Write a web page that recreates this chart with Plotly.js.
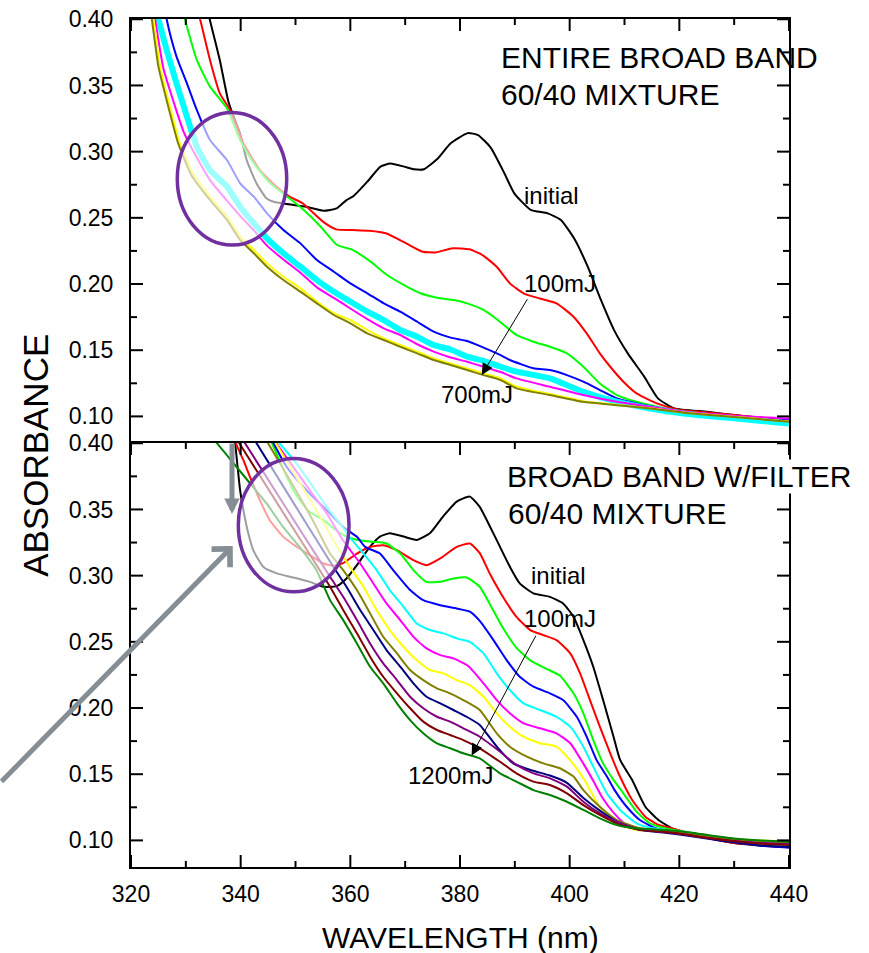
<!DOCTYPE html>
<html><head><meta charset="utf-8">
<script src="https://cdn.plot.ly/plotly-3.0.1.min.js"></script>
<style>html,body{margin:0;padding:0;background:#fff}#chart{width:869px;height:953px}</style>
</head><body><div id="chart"></div>
<script>
// ---------- TOP PANEL: ENTIRE BROAD BAND ----------
const topInitialX = [332.5,334.4,336.2,337.7,338.4,339.9,341.1,342.9,344.7,346.0,348.4,352.0,355.1,357.5,359.3,360.6,363.1,365.5,367.3,369.8,371.6,373.4,375.8,378.3,381.4,383.3,385.6,388.1,389.9,392.9,396.0,398.4,400.8,403.3,405.7,408.1,410.6,413.6,416.1,419.1,425,430,435,440];
const topInitialY = [0.433,0.3992,0.369,0.3389,0.33,0.3137,0.2936,0.276,0.2647,0.2621,0.2604,0.2583,0.2553,0.2571,0.2634,0.2665,0.2773,0.2887,0.291,0.2887,0.2867,0.2867,0.2942,0.3063,0.314,0.3125,0.303,0.2836,0.2685,0.256,0.2534,0.2484,0.2345,0.2131,0.188,0.1652,0.1476,0.13,0.1136,0.106,0.1035,0.101,0.099,0.0967];
const top100X = [330.5,332.6,334.4,336.2,338.05,340.5,343.5,346.5,348.9,351.3,355.0,357.4,360.4,363.5,366.5,370.2,373.2,375.6,378.7,381.7,384.1,386.7,389.1,391.6,394.6,397.6,400.7,403.1,405.5,407.4,409.8,412.2,415.9,419.6,425,430,435,440];
const top100Y = [0.43,0.40,0.3693,0.344,0.3315,0.3063,0.2861,0.2736,0.266,0.261,0.2471,0.2413,0.2408,0.2403,0.2383,0.2307,0.2244,0.2239,0.227,0.2262,0.2219,0.213,0.2005,0.193,0.189,0.1854,0.1753,0.1627,0.1476,0.1375,0.1262,0.1174,0.1098,0.1053,0.103,0.101,0.099,0.097];
const topGreenX = [328,329.85,332.0,334.4,337.5,339.9,342.4,345.4,348.5,351.5,354.6,357.6,360.3,363.7,366.7,369.8,372.8,375.8,378.9,381.3,384.3,387.3,390.3,393.4,396.4,399.5,402.5,405.5,408.6,412.2,415.9,420.8,430,440];
const topGreenY = [0.44,0.40,0.3693,0.3491,0.3327,0.3088,0.2912,0.2761,0.266,0.2559,0.2433,0.2295,0.226,0.2169,0.2068,0.1992,0.193,0.1897,0.1879,0.1854,0.1804,0.1715,0.1615,0.1564,0.1526,0.1476,0.1375,0.1249,0.1161,0.111,0.1073,0.1035,0.1,0.0965];
const topBlueX = [324.5,326.5,328.3,330.2,332.0,334.4,337.5,339.9,342.4,344.8,347.8,350.9,353.9,357.0,360.0,363.1,366.1,369.1,372.2,375.2,378.3,381.3,384.3,387.4,389.1,393.4,396.4,399.5,402.5,405.5,408.6,412.2,415.9,420.8,430,440];
const topBlueY = [0.45,0.40,0.3718,0.3516,0.3315,0.3088,0.2937,0.2761,0.266,0.2534,0.2408,0.2307,0.2181,0.2093,0.2005,0.193,0.1854,0.1791,0.1715,0.164,0.1595,0.157,0.152,0.1463,0.1426,0.1363,0.135,0.1312,0.1262,0.1199,0.1136,0.1098,0.1068,0.1035,0.1,0.097];
const topCyanX = [323.2,325.0,326.5,328.3,330.2,332.0,334.4,337.5,339.9,342.4,344.8,347.8,350.9,353.9,357.0,360.0,363.1,366.1,369.1,372.2,375.2,378.3,381.3,384.3,387.4,390.3,396.4,402.5,408.6,414.7,420.8,430,440];
const topCyanY = [0.428,0.40,0.3768,0.3516,0.3264,0.3038,0.2861,0.2736,0.2584,0.2458,0.2345,0.2232,0.2131,0.203,0.1942,0.1867,0.1791,0.1728,0.1653,0.1602,0.1539,0.1505,0.1451,0.142,0.1375,0.1338,0.1287,0.1186,0.1111,0.106,0.1022,0.0985,0.0947];
const topMagentaX = [322.5,324.4,325.9,327.7,329.6,332.0,334.4,337.5,339.9,342.4,344.8,347.8,350.9,353.9,357.0,360.0,363.1,366.1,369.1,372.2,375.2,378.3,381.3,384.3,387.4,390.3,396.4,402.5,408.6,414.7,420.8,430,440];
const topMagentaY = [0.45,0.40,0.363,0.3385,0.315,0.2955,0.2785,0.263,0.2515,0.2405,0.229,0.2185,0.2085,0.1975,0.1895,0.1815,0.1735,0.1665,0.1615,0.1545,0.1489,0.1445,0.1413,0.1375,0.1335,0.1287,0.1224,0.1161,0.111,0.1073,0.1035,0.1005,0.0985];
const topYellowX = [322.3,324.1,325.3,327.1,328.9,331.3,334.4,337.5,339.9,342.4,344.8,347.8,350.9,353.9,357.0,360.0,363.1,366.1,369.1,372.2,375.2,378.3,381.3,384.3,387.4,390.3,396.4,402.5,408.6,414.7,420.8,430,440];
const topYellowY = [0.45,0.40,0.3642,0.334,0.3063,0.2836,0.266,0.2509,0.2358,0.2257,0.2156,0.2055,0.1967,0.1867,0.1778,0.1728,0.1653,0.1589,0.1539,0.1489,0.1438,0.14,0.1363,0.1325,0.1287,0.1225,0.117,0.1115,0.1088,0.1062,0.103,0.0997,0.0962];
const topOliveX = [322,323.8,325.0,326.8,328.6,331.0,334.4,337.5,339.9,342.4,344.8,347.8,350.9,353.9,357.0,360.0,363.1,366.1,369.1,372.2,375.2,378.3,381.3,384.3,387.4,390.3,396.4,402.5,408.6,414.7,420.8,430,440];
const topOliveY = [0.45,0.40,0.3642,0.334,0.3063,0.2824,0.2635,0.2484,0.2333,0.2232,0.2131,0.203,0.1942,0.1854,0.1766,0.1703,0.1627,0.1577,0.1526,0.1476,0.1426,0.1388,0.135,0.1312,0.1275,0.1212,0.1161,0.111,0.1085,0.106,0.1028,0.0995,0.096];

// ---------- BOTTOM PANEL: BROAD BAND W/FILTER ----------
const botInitialX = [337.5,339.0,339.9,340.5,341.4,342.3,344.1,346.6,349.6,352.6,355.1,357.5,359.3,361.2,363.6,365.4,367.2,369.7,372.1,374.5,376.9,379.4,381.8,383.6,385.5,387.3,389.1,390.9,393.4,396.4,398.8,400.7,402.5,404.3,406.1,408.0,409.2,411.4,413.8,416.2,418.7,422,426,430,435,440];
const botInitialY = [0.46,0.40,0.3645,0.3494,0.3318,0.3192,0.3067,0.3017,0.2986,0.2953,0.2916,0.2921,0.2979,0.3079,0.3219,0.3295,0.332,0.3295,0.327,0.332,0.3446,0.3559,0.3597,0.3519,0.3368,0.3217,0.3067,0.2941,0.2866,0.284,0.279,0.2689,0.2513,0.2312,0.206,0.1783,0.1608,0.1456,0.1254,0.1154,0.109,0.105,0.101,0.098,0.096,0.095];
const bot100X = [338,339.15,340.5,341.7,343.5,345.3,347.8,350.2,352.6,355.1,356.9,358.7,361.2,363.6,366.0,368.5,371.5,373.9,376.4,379.4,381.8,383.6,385.5,387.9,390.3,392.8,395.2,397.6,400.1,401.9,403.7,405.5,407.4,408.9,411.4,413.8,416.2,418.7,422,426,430,435,440];
const bot100Y = [0.43,0.40,0.3872,0.3746,0.357,0.3419,0.3293,0.3218,0.3155,0.3092,0.3075,0.3095,0.3167,0.3217,0.323,0.3192,0.3117,0.3079,0.313,0.3217,0.3243,0.317,0.301,0.2835,0.2689,0.2589,0.2551,0.2513,0.2413,0.2262,0.206,0.1859,0.1658,0.1507,0.1305,0.1179,0.1116,0.1091,0.105,0.101,0.098,0.0965,0.0955];
const botGreenX = [344.3,345.7,347.5,349.6,352.3,355.1,357.5,359.5,362.0,364.2,366.6,369.1,371.5,373.9,376.4,378.8,381.2,383.6,385.5,387.9,390.3,392.8,395.8,398.2,400.7,402.5,404.3,406.1,408.0,409.8,412.2,414.6,417.6,422,426,430,435,440];
const botGreenY = [0.41,0.40,0.383,0.3645,0.349,0.3419,0.334,0.329,0.3265,0.3255,0.3243,0.3167,0.3042,0.2953,0.2953,0.2979,0.2986,0.2916,0.278,0.26,0.2455,0.236,0.2295,0.2245,0.2111,0.196,0.1758,0.1582,0.1457,0.1355,0.1217,0.1129,0.1091,0.106,0.103,0.101,0.0995,0.098];
const botBlueX = [344.8,346.0,348.4,352.0,355.7,358.7,361.2,362.7,365.4,367.8,370.9,373.3,376.4,379.4,381.8,383.6,386.1,388.5,390.9,393.4,396.4,398.8,401.3,403.1,404.9,406.8,408.2,410.4,412.8,415.8,420,425,430,435,440];
const botBlueY = [0.41,0.40,0.3821,0.3645,0.3494,0.3368,0.3293,0.3217,0.3167,0.3042,0.2891,0.2815,0.2777,0.2752,0.2728,0.2658,0.2513,0.2362,0.2236,0.2161,0.2111,0.206,0.1934,0.1783,0.1608,0.1482,0.138,0.1254,0.1154,0.109,0.106,0.102,0.0985,0.096,0.0945];
const botCyanX = [346,347.1,350.2,353.2,355.7,358.1,359.9,362.4,364.8,367.2,369.7,372.1,374.5,377.0,379.4,381.8,384.3,386.7,389.1,391.6,394.6,397.6,400.1,402.5,404.3,406.8,409.2,412.2,415.2,420,425,430,435,440];
const botCyanY = [0.406,0.40,0.3847,0.367,0.3519,0.3394,0.329,0.3167,0.3042,0.2891,0.2765,0.2639,0.2589,0.2564,0.2526,0.25,0.2413,0.2262,0.2136,0.2035,0.1985,0.1934,0.1859,0.1708,0.1557,0.1355,0.123,0.1129,0.1091,0.1065,0.1025,0.099,0.097,0.0955];
const botMagentaX = [345.5,346.5,349.6,352.6,355.7,358.7,361.8,364.2,366.6,369.1,371.5,373.9,376.4,378.8,381.5,384.3,386.7,389.1,391.6,394.6,397.6,400.1,402.5,404.3,406,408,410.4,414.0,418,422,426,430,435,440];
const botMagentaY = [0.406,0.40,0.3821,0.3645,0.3469,0.3265,0.3092,0.2941,0.279,0.2664,0.2538,0.245,0.24,0.2375,0.2318,0.2186,0.206,0.196,0.1884,0.1847,0.1809,0.1734,0.158,0.145,0.132,0.121,0.1116,0.1078,0.107,0.105,0.102,0.0995,0.098,0.097];
const botYellowX = [345.5,346.4,350,354,357.5,359.9,362.4,364.8,367.2,369.7,372.1,374.5,377.0,379.4,381.8,384.3,386.7,389.1,391.6,394.6,397.6,400.4,402.8,405.5,408.6,412.2,416,420,425,430,435,440];
const botYellowY = [0.406,0.40,0.3755,0.348,0.3225,0.3067,0.2916,0.274,0.2589,0.2463,0.2362,0.2287,0.2262,0.2211,0.2173,0.2085,0.196,0.1859,0.1783,0.1734,0.1708,0.159,0.145,0.125,0.1129,0.1078,0.1072,0.1065,0.1035,0.101,0.1,0.099];
const botOliveX = [344,345.0,349,353,356.3,358.7,361.2,363.6,366.0,368.5,370.9,373.3,375.8,378.2,380.6,383.6,386.7,389.1,392.2,395.2,398.2,400.7,402.5,405.5,408.6,412.8,417,420,425,430,435,440];
const botOliveY = [0.407,0.40,0.372,0.343,0.3167,0.3042,0.2891,0.2715,0.2538,0.2413,0.2287,0.2211,0.2149,0.2111,0.206,0.1985,0.1809,0.1708,0.1633,0.1582,0.1545,0.1482,0.138,0.1254,0.1154,0.1091,0.1075,0.1065,0.1035,0.101,0.0995,0.0985];
const botNavyX = [341.5,342.9,350,356.9,359.3,361.8,364.2,366.6,369.1,371.5,373.9,376.4,378.8,381.2,383.6,386.7,389.7,393.0,396.4,399.5,402.5,405.5,408.6,412.8,417,420,425,430,435,440];
const botNavyY = [0.409,0.40,0.3525,0.3067,0.2916,0.274,0.2589,0.2438,0.2312,0.2186,0.2085,0.2035,0.1985,0.1934,0.1872,0.1708,0.1582,0.153,0.149,0.1435,0.132,0.1225,0.1142,0.1078,0.106,0.1045,0.1015,0.0985,0.0962,0.095];
const botPurpleX = [339.5,340.8,348,356.3,358.7,361.2,363.6,366.0,368.5,370.9,373.3,375.8,378.2,380.6,383.6,387.3,390.3,393.4,396.4,399.5,402.5,405.5,409.2,413,417,420,425,430,435,440];
const botPurpleY = [0.408,0.40,0.353,0.2991,0.284,0.2664,0.2488,0.2337,0.2211,0.2085,0.1998,0.1934,0.1897,0.1847,0.1783,0.167,0.157,0.1506,0.1469,0.1406,0.1292,0.1204,0.1129,0.108,0.1065,0.105,0.102,0.0995,0.098,0.097];
const botMaroonX = [338.5,339.75,347,356.3,358.7,361.2,363.6,366.0,368.5,370.9,373.3,375.8,378.2,380.6,383.6,387.3,390.3,393.4,396.4,399.5,402.5,405.5,409.2,413,417,420,425,430,435,440];
const botMaroonY = [0.408,0.40,0.3525,0.2916,0.274,0.2564,0.2388,0.2236,0.2111,0.1998,0.1897,0.1834,0.1796,0.1758,0.1696,0.1594,0.1506,0.1444,0.1418,0.1355,0.1267,0.1192,0.1116,0.108,0.1065,0.1052,0.102,0.0995,0.0975,0.0965];
const botDarkGreenX = [334.5,335.7,338.7,341.7,344.7,347.7,350.7,353.8,356.3,358.7,361.2,363.6,366.0,368.5,370.9,373.3,375.8,378.2,380.6,383.6,387.3,390.3,393.4,396.4,399.5,402.5,405.5,408.6,412.2,417.6,422,426,430,435,440];
const botDarkGreenY = [0.407,0.40,0.3849,0.3698,0.3547,0.337,0.3219,0.3043,0.2815,0.2664,0.2488,0.2312,0.2186,0.2035,0.1909,0.1809,0.1733,0.1696,0.1658,0.1619,0.1506,0.1444,0.138,0.1343,0.1292,0.123,0.1166,0.1116,0.1091,0.1078,0.106,0.1035,0.1015,0.1,0.099];

// tick positions
const xMajorTicks = [320,340,360,380,400,420,440];
const xMinorTicks = [330,350,370,390,410,430];
const yMajorTicks = [0.10,0.15,0.20,0.25,0.30,0.35,0.40];
const yMinorTicks = [0.125,0.175,0.225,0.275,0.325,0.375];
const xTitle = 'WAVELENGTH (nm)';
const yTitle = 'ABSORBANCE';

// ---------- build ----------
const FONT = 'Liberation Sans, Arial, sans-serif';
function line(x, y, color, width, xa, ya) {
  return {x: x, y: y, type: 'scatter', mode: 'lines', xaxis: xa, yaxis: ya,
    line: {color: color, width: width, shape: 'spline', smoothing: 0.5},
    hoverinfo: 'skip', showlegend: false};
}
const traces = [
  line(topInitialX, topInitialY, '#000000', 2, 'x2', 'y2'),
  line(top100X, top100Y, '#FF0000', 2, 'x2', 'y2'),
  line(topGreenX, topGreenY, '#00FF00', 2, 'x2', 'y2'),
  line(topBlueX, topBlueY, '#0000FF', 2, 'x2', 'y2'),
  line(topCyanX, topCyanY, '#00FFFF', 6, 'x2', 'y2'),
  line(topMagentaX, topMagentaY, '#FF00FF', 2, 'x2', 'y2'),
  line(topYellowX, topYellowY, '#FFFF00', 2, 'x2', 'y2'),
  line(topOliveX, topOliveY, '#808000', 2, 'x2', 'y2'),
  line(botInitialX, botInitialY, '#000000', 2, 'x', 'y'),
  line(bot100X, bot100Y, '#FF0000', 2, 'x', 'y'),
  line(botGreenX, botGreenY, '#00FF00', 2, 'x', 'y'),
  line(botBlueX, botBlueY, '#0000FF', 2, 'x', 'y'),
  line(botCyanX, botCyanY, '#00FFFF', 2, 'x', 'y'),
  line(botMagentaX, botMagentaY, '#FF00FF', 2, 'x', 'y'),
  line(botYellowX, botYellowY, '#FFFF00', 2, 'x', 'y'),
  line(botOliveX, botOliveY, '#808000', 2, 'x', 'y'),
  line(botNavyX, botNavyY, '#000080', 2, 'x', 'y'),
  line(botPurpleX, botPurpleY, '#800080', 2, 'x', 'y'),
  line(botMaroonX, botMaroonY, '#800000', 2, 'x', 'y'),
  line(botDarkGreenX, botDarkGreenY, '#008000', 2, 'x', 'y')
];

const tickFont = {family: FONT, size: 23, color: '#000'};
const XR = [320, 440], YR = [0.0799, 0.4002];
// axes carry the labels (transparent outside ticks act as label spacers); inward tick marks are shapes
function ax(extra) {
  return Object.assign({showline: true, linewidth: 2, linecolor: '#000', showgrid: false, zeroline: false,
    ticks: 'outside', tickcolor: 'rgba(0,0,0,0)', tickfont: tickFont}, extra);
}
function yAx(domain, anchor) {
  return ax({domain: domain, anchor: anchor, range: YR, tickmode: 'array', tickvals: yMajorTicks,
    ticktext: yMajorTicks.map(v => v.toFixed(2)), ticklen: 11, mirror: true});
}
const tickShapes = [];
const TK = {color: '#000', width: 2};
function xTick(xa, ya, v, top, len) {
  tickShapes.push({type: 'line', xref: xa, yref: ya + ' domain', x0: v, x1: v, ysizemode: 'pixel',
    yanchor: top ? 1 : 0, y0: 0, y1: top ? -len : len, line: TK, layer: 'above'});
}
function yTick(xa, ya, v, right, len) {
  tickShapes.push({type: 'line', xref: xa + ' domain', yref: ya, y0: v, y1: v, xsizemode: 'pixel',
    xanchor: right ? 1 : 0, x0: 0, x1: right ? -len : len, line: TK, layer: 'above'});
}
xMajorTicks.forEach(v => { xTick('x', 'y', v, false, 12); xTick('x', 'y', v, true, 12); xTick('x2', 'y2', v, true, 12); });
xMinorTicks.forEach(v => { xTick('x', 'y', v, false, 6); xTick('x', 'y', v, true, 6); xTick('x2', 'y2', v, true, 6); });
[['x', 'y'], ['x2', 'y2']].forEach(([xa, ya]) => {
  yMajorTicks.forEach(v => { yTick(xa, ya, v, false, 12); yTick(xa, ya, v, true, 12); });
  yMinorTicks.forEach(v => { yTick(xa, ya, v, false, 6); yTick(xa, ya, v, true, 6); });
});

const gray = '#858d95';
const purple = '#7030A0';
const layout = {
  width: 869, height: 953,
  margin: {l: 131, r: 80, t: 19, b: 86},
  showlegend: false,
  xaxis: ax({domain: [0, 1], anchor: 'y', range: XR, tickmode: 'array', tickvals: xMajorTicks,
    ticktext: xMajorTicks.map(String), ticklen: 5, mirror: true}),
  xaxis2: ax({domain: [0, 1], anchor: 'y2', range: XR, side: 'top', tickmode: 'array', tickvals: xMajorTicks,
    showticklabels: false, ticks: '', mirror: false}),
  yaxis: yAx([0, 0.5], 'x'),
  yaxis2: yAx([0.5, 1], 'x2'),
  shapes: [
    {type: 'circle', xref: 'x2', yref: 'y2', x0: 328.44, x1: 348.4, y0: 0.2294, y1: 0.3296,
     line: {color: purple, width: 3.5}, fillcolor: 'rgba(255,255,255,0.62)', layer: 'above'},
    {type: 'circle', xref: 'x', yref: 'y', x0: 339.57, x1: 359.76, y0: 0.2878, y1: 0.3885,
     line: {color: purple, width: 3.5}, fillcolor: 'rgba(255,255,255,0.62)', layer: 'above'}
  ].concat(tickShapes),
  annotations: [
    {text: 'ENTIRE BROAD BAND', xref: 'x2', yref: 'y2', x: 387.1, y: 0.3709, xanchor: 'left', yanchor: 'middle', showarrow: false, font: {family: FONT, size: 30, color: '#000'}},
    {text: '60/40 MIXTURE', xref: 'x2', yref: 'y2', x: 387.1, y: 0.3432, xanchor: 'left', yanchor: 'middle', showarrow: false, font: {family: FONT, size: 30, color: '#000'}},
    {text: 'initial', xref: 'x2', yref: 'y2', x: 391.3, y: 0.267, xanchor: 'left', yanchor: 'middle', showarrow: false, font: {family: FONT, size: 24, color: '#000'}},
    {text: '100mJ', xref: 'x2', yref: 'y2', x: 391.3, y: 0.2003, xanchor: 'left', yanchor: 'middle', showarrow: false, font: {family: FONT, size: 24, color: '#000'}},
    {text: '700mJ', xref: 'x2', yref: 'y2', x: 376.2, y: 0.1162, xanchor: 'left', yanchor: 'middle', showarrow: false, font: {family: FONT, size: 24, color: '#000'}},
    {text: '', xref: 'x2', yref: 'y2', x: 383.96, y: 0.1313, axref: 'x2', ayref: 'y2', ax: 392.46, ay: 0.1897,
     showarrow: true, arrowhead: 2, arrowsize: 2.3, arrowwidth: 1, arrowcolor: '#000'},
    {text: 'BROAD BAND W/FILTER', xref: 'x', yref: 'y', x: 388.4, y: 0.3751, xanchor: 'left', yanchor: 'middle', showarrow: false, bgcolor: '#fff', borderpad: 0, font: {family: FONT, size: 30, color: '#000'}},
    {text: '60/40 MIXTURE', xref: 'x', yref: 'y', x: 388.4, y: 0.3468, xanchor: 'left', yanchor: 'middle', showarrow: false, font: {family: FONT, size: 30, color: '#000'}},
    {text: 'initial', xref: 'x', yref: 'y', x: 392.6, y: 0.3004, xanchor: 'left', yanchor: 'middle', showarrow: false, font: {family: FONT, size: 24, color: '#000'}},
    {text: '100mJ', xref: 'x', yref: 'y', x: 391.3, y: 0.2675, xanchor: 'left', yanchor: 'middle', showarrow: false, font: {family: FONT, size: 24, color: '#000'}},
    {text: '1200mJ', xref: 'x', yref: 'y', x: 370.2, y: 0.1494, xanchor: 'left', yanchor: 'middle', showarrow: false, font: {family: FONT, size: 24, color: '#000'}},
    {text: '', xref: 'x', yref: 'y', x: 382.13, y: 0.1642, axref: 'x', ayref: 'y', ax: 393.99, ay: 0.2558,
     showarrow: true, arrowhead: 2, arrowsize: 2.3, arrowwidth: 1, arrowcolor: '#000'},
    // grey pointer arrows
    {text: '', xref: 'paper', yref: 'paper', x: 0.1535, y: 0.4163, ax: 0, ay: -72,
     showarrow: true, arrowhead: 2, arrowsize: 0.62, arrowwidth: 5, arrowcolor: gray},
    {text: '', xref: 'paper', yref: 'paper', x: 0.1546, y: 0.3785, ax: -233, ay: 237,
     showarrow: true, arrowhead: 4, arrowsize: 1, arrowwidth: 5, arrowcolor: gray},
    // axis titles
    {text: xTitle, xref: 'paper', yref: 'paper', x: 0.5, y: -0.0837, xanchor: 'center', yanchor: 'middle', showarrow: false, font: {family: FONT, size: 30, color: '#000'}},
    {text: yTitle, xref: 'paper', yref: 'paper', x: -0.1444, y: 0.486, xanchor: 'center', yanchor: 'middle', textangle: -90, showarrow: false, font: {family: FONT, size: 35, color: '#000'}}
  ]
};
Plotly.newPlot('chart', traces, layout, {displayModeBar: false, staticPlot: true});
</script></body></html>
